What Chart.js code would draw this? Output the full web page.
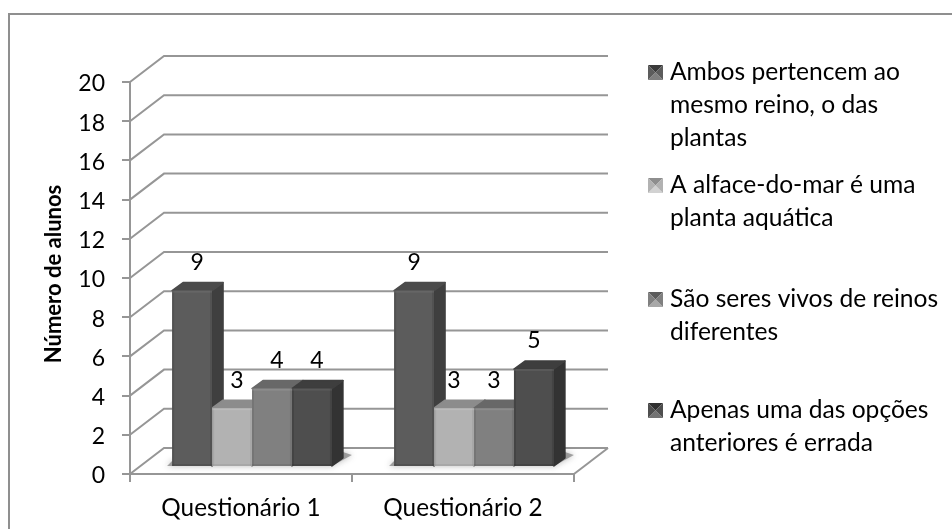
<!DOCTYPE html>
<html>
<head>
<meta charset="utf-8">
<title>Número de alunos por questionário</title>
<script src="https://cdn.jsdelivr.net/npm/chart.js@4/dist/chart.umd.min.js"></script>
<style>
    html, body { margin: 0; padding: 0; background: #fff; }
    #wrap { position: relative; width: 952px; height: 529px; overflow: hidden; }
</style>
</head>
<body>
<div id="wrap"><canvas id="chart" width="952" height="529"></canvas></div>
<script>
// Chart data
const categories = ['Questionário 1', 'Questionário 2'];
const ambosValues = [9, 9];
const alfaceValues = [3, 3];
const seresValues = [4, 3];
const apenasValues = [4, 5];

const ambosLabel = ['Ambos pertencem ao', 'mesmo reino, o das', 'plantas'];
const alfaceLabel = ['A alface-do-mar é uma', 'planta aquática'];
const seresLabel = ['São seres vivos de reinos', 'diferentes'];
const apenasLabel = ['Apenas uma das opções', 'anteriores é errada'];
const yTitle = 'Número de alunos';

const FONT = 'Lato, "Open Sans", sans-serif';
const AXIS_SIZE = 24.3;
const TICK_SIZE = 23;
const LEGEND_SIZE = 24.6;
const GRID = '#969696';

// Box depth: how far the back wall sits from the axes, and the bars from the front edge
const WALL = { x: 34, y: -26 };
const BAR_SHIFT = { x: 11, y: -7 };
const BAR_DEPTH = { x: 11, y: -8 };

// Front, side and top colours per series
const shades = [
    { front: '#5c5c5c', side: '#3f3f3f', top: '#4b4b4b', light: '#7f7f7f', dark: '#3a3a3a' },
    { front: '#b2b2b2', side: '#7c7c7c', top: '#8c8c8c', light: '#d2d2d2', dark: '#8e8e8e' },
    { front: '#808080', side: '#595959', top: '#686868', light: '#a8a8a8', dark: '#5c5c5c' },
    { front: '#4e4e4e', side: '#333333', top: '#3e3e3e', light: '#737373', dark: '#303030' }
];

// Fill a polygon and round its corners with a same-coloured stroke
function fillFace(ctx, color, points) {
    ctx.fillStyle = color;
    ctx.strokeStyle = color;
    ctx.lineWidth = 1.5;
    ctx.lineJoin = 'round';
    ctx.beginPath();
    points.forEach(function(p, i) {
        if (i === 0) {
            ctx.moveTo(p[0], p[1]);
        } else {
            ctx.lineTo(p[0], p[1]);
        }
    });
    ctx.closePath();
    ctx.fill();
    ctx.stroke();
}

// Frame, side wall, floor, back wall grid lines and the bars' side and top faces
const wallPlugin = {
    id: 'wall',
    beforeDatasetsDraw(chart) {
        const { ctx, chartArea: area, scales: { y } } = chart;
        ctx.save();

        // the frame only shows on its top and left edges
        ctx.strokeStyle = '#8f8f8f';
        ctx.lineWidth = 2;
        ctx.beginPath();
        ctx.moveTo(9, 529);
        ctx.lineTo(9, 14);
        ctx.lineTo(952, 14);
        ctx.stroke();

        ctx.strokeStyle = GRID;
        ctx.lineWidth = 2;
        y.ticks.forEach(function(tick) {
            const py = y.getPixelForValue(tick.value);
            ctx.beginPath();
            ctx.moveTo(area.left, py);
            ctx.lineTo(area.left + WALL.x, py + WALL.y);
            ctx.lineTo(area.right + WALL.x, py + WALL.y);
            ctx.stroke();
        });

        // right edge of the floor
        ctx.beginPath();
        ctx.moveTo(area.right + WALL.x, area.bottom + WALL.y);
        ctx.lineTo(area.right, area.bottom);
        ctx.stroke();
        ctx.restore();

        // soft shadow on the floor around each group
        ctx.save();
        ctx.fillStyle = 'rgba(110,110,110,0.6)';
        ctx.shadowColor = 'rgba(110,110,110,0.8)';
        ctx.shadowBlur = 6;
        chart.getDatasetMeta(0).data.forEach(function(first, i) {
            const last = chart.getDatasetMeta(3).data[i];
            const left = first.x - first.width / 2 + BAR_SHIFT.x;
            const right = last.x + last.width / 2 + BAR_SHIFT.x;
            const base = first.base + BAR_SHIFT.y;
            ctx.beginPath();
            ctx.moveTo(left - 5, base);
            ctx.lineTo(right, base);
            ctx.lineTo(right + 20, base - 11);
            ctx.lineTo(right + BAR_DEPTH.x, base - 14);
            ctx.lineTo(left, base - 5);
            ctx.closePath();
            ctx.fill();
        });
        ctx.restore();

        // every bar is moved back from the front edge of the floor
        ctx.save();
        ctx.translate(BAR_SHIFT.x, BAR_SHIFT.y);

        // faces go left to right, the fronts are painted over them afterwards
        chart.data.datasets.forEach(function(dataset, d) {
            const shade = shades[d];
            chart.getDatasetMeta(d).data.forEach(function(bar) {
                const l = bar.x - bar.width / 2;
                const r = bar.x + bar.width / 2;
                fillFace(ctx, shade.side, [
                    [r, bar.y],
                    [r + BAR_DEPTH.x, bar.y + BAR_DEPTH.y],
                    [r + BAR_DEPTH.x, bar.base + BAR_DEPTH.y],
                    [r, bar.base]
                ]);
                fillFace(ctx, shade.top, [
                    [l, bar.y],
                    [l + BAR_DEPTH.x, bar.y + BAR_DEPTH.y],
                    [r + BAR_DEPTH.x, bar.y + BAR_DEPTH.y],
                    [r, bar.y]
                ]);
            });
        });
    },
    afterDatasetDraw(chart, args) {
        // slight bevel on the front face
        const { ctx } = chart;
        const shade = shades[args.index];
        args.meta.data.forEach(function(bar) {
            const l = bar.x - bar.width / 2;
            const r = bar.x + bar.width / 2;
            ctx.fillStyle = shade.dark;
            ctx.globalAlpha = 0.3;
            ctx.fillRect(l, bar.y, 2, bar.base - bar.y);
            ctx.fillRect(r - 2, bar.y, 2, bar.base - bar.y);
            ctx.fillRect(l, bar.base - 2, bar.width, 2);
            ctx.fillStyle = shade.light;
            ctx.fillRect(l, bar.y, bar.width, 2);
            ctx.globalAlpha = 1;
        });
    },
    afterDatasetsDraw(chart) {
        chart.ctx.restore();
    }
};

// Value above each bar; the labels of the first group sit a little further right
const LABEL_NUDGE = [5, 0];
const valueLabelPlugin = {
    id: 'valueLabels',
    afterDraw(chart) {
        const { ctx } = chart;
        ctx.save();
        ctx.fillStyle = '#000';
        ctx.font = TICK_SIZE + 'px ' + FONT;
        ctx.textAlign = 'center';
        ctx.textBaseline = 'middle';
        chart.data.datasets.forEach(function(dataset, d) {
            chart.getDatasetMeta(d).data.forEach(function(bar, i) {
                ctx.fillText(String(dataset.data[i]), bar.x + BAR_SHIFT.x + LABEL_NUDGE[i], bar.y + BAR_SHIFT.y - 28);
            });
        });
        ctx.restore();
    }
};

// Rotated y title
const axisTitlePlugin = {
    id: 'axisTitle',
    afterDraw(chart) {
        const { ctx } = chart;
        ctx.save();
        ctx.translate(61, 274);
        ctx.rotate(-Math.PI / 2);
        ctx.fillStyle = '#000';
        ctx.font = 'bold 22px ' + FONT;
        ctx.textAlign = 'center';
        ctx.textBaseline = 'alphabetic';
        ctx.fillText(yTitle, 0, 0);
        ctx.restore();
    }
};

// Wrapped legend on the right, with bevelled swatches
const legendPlugin = {
    id: 'wrappedLegend',
    afterDraw(chart) {
        const { ctx } = chart;
        const entries = [ambosLabel, alfaceLabel, seresLabel, apenasLabel];
        const firstBaseline = [80, 193, 307, 418];
        const lineStep = 33;
        ctx.save();
        entries.forEach(function(lines, e) {
            drawSwatch(ctx, 648, firstBaseline[e] - 15, 15, shades[e]);
            ctx.fillStyle = '#000';
            ctx.font = LEGEND_SIZE + 'px ' + FONT;
            ctx.textAlign = 'left';
            ctx.textBaseline = 'alphabetic';
            lines.forEach(function(line, i) {
                ctx.fillText(line, 670, firstBaseline[e] + i * lineStep);
            });
        });
        ctx.restore();
    }
};

function drawSwatch(ctx, x, y, s, shade) {
    const cx = x + s / 2;
    const cy = y + s / 2;
    const tri = function(x1, y1, x2, y2, color) {
        ctx.fillStyle = color;
        ctx.beginPath();
        ctx.moveTo(x1, y1);
        ctx.lineTo(x2, y2);
        ctx.lineTo(cx, cy);
        ctx.closePath();
        ctx.fill();
    };
    tri(x, y, x + s, y, shade.dark);
    tri(x + s, y + s, x, y + s, shade.light);
    tri(x, y, x, y + s, shade.front);
    tri(x + s, y, x + s, y + s, shade.front);
}

function makeDataset(label, values, index) {
    return {
        label: label.join(' '),
        data: values,
        backgroundColor: shades[index].front,
        borderWidth: 0
    };
}

new Chart(document.getElementById('chart'), {
    type: 'bar',
    data: {
        labels: categories,
        datasets: [
            makeDataset(ambosLabel, ambosValues, 0),
            makeDataset(alfaceLabel, alfaceValues, 1),
            makeDataset(seresLabel, seresValues, 2),
            makeDataset(apenasLabel, apenasValues, 3)
        ]
    },
    plugins: [wallPlugin, valueLabelPlugin, axisTitlePlugin, legendPlugin],
    options: {
        responsive: false,
        animation: false,
        layout: { padding: { left: 0, right: 378, top: 82, bottom: 0 } },
        datasets: { bar: { categoryPercentage: 0.72, barPercentage: 1 } },
        plugins: {
            legend: { display: false },
            tooltip: { enabled: false }
        },
        scales: {
            x: {
                afterFit: function(scale) { scale.height = 55; },
                grid: { drawOnChartArea: false, color: GRID, lineWidth: 2, tickLength: 8 },
                border: { color: GRID, width: 2 },
                ticks: { color: '#000', font: { family: FONT, size: AXIS_SIZE }, padding: 12, maxRotation: 0 }
            },
            y: {
                min: 0,
                max: 20,
                afterFit: function(scale) { scale.width = 130; },
                grid: { drawOnChartArea: false, color: GRID, lineWidth: 2, tickLength: 8 },
                border: { color: GRID, width: 2 },
                ticks: { stepSize: 2, color: '#000', font: { family: FONT, size: TICK_SIZE }, padding: 17, labelOffset: 2 }
            }
        }
    }
});
</script>
</body>
</html>
